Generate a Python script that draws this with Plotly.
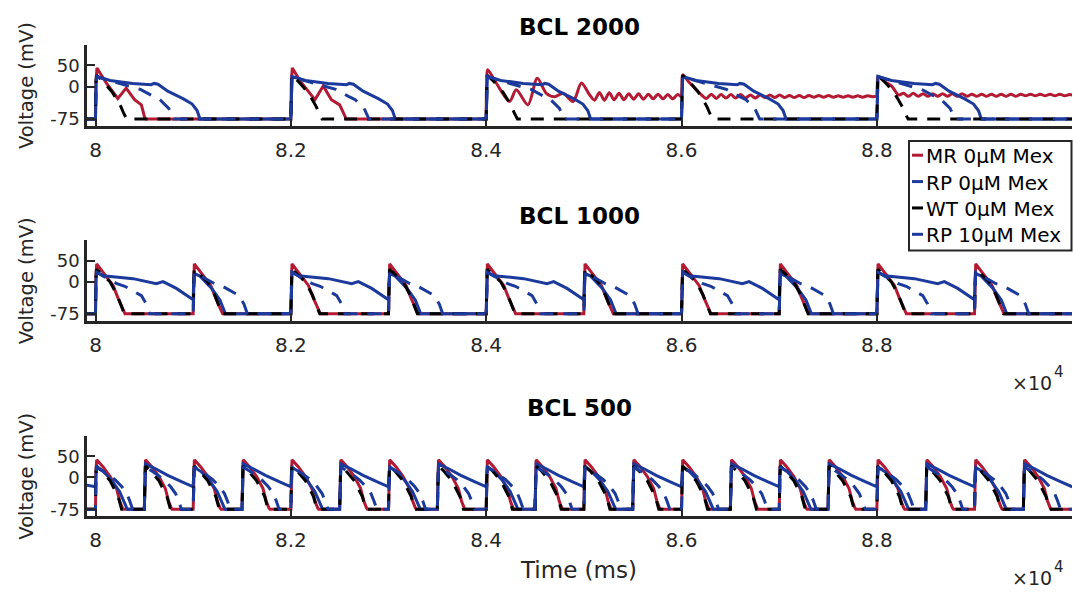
import plotly.graph_objects as go

W, H = 1073, 592
RED = "#B31B34"
BLUE = "#1C3A9C"
WT_COLOR = "#000000"
AX = "#262626"
FONT = "DejaVu Sans"

# ---------------- data (ms, mV) ----------------
START_T = 79900
END_T = 90000
REST = -75

# ---- BCL 2000 ----
ONSETS_2000 = [80000, 82000, 84000, 86000, 88000]

MR2000_B1_T = [0, 5, 15, 110, 228, 314, 400, 470, 505, 520]
MR2000_B1_V = [-75, 10, 44, 9, -27, -3, -30, -42, -73, -75]
MR2000_B2_T = [0, 5, 15, 100, 247, 332, 415, 500, 550, 568]
MR2000_B2_V = [-75, 10, 44, 12, -30, 2, -30, -42, -66, -75]
MR2000_B3_T = [0, 5, 15, 103, 239, 308, 428, 523, 616, 702, 787, 890, 975, 1060,
               1110, 1160, 1210, 1260, 1310, 1360, 1410, 1460, 1510, 1560, 1610,
               1660, 1710, 1760, 1810, 1860, 1910, 1960, 2000]
MR2000_B3_V = [-75, 10, 40, 9, -34, -7, -42, 20, -15, -23, -15, -34, 9, -19,
               -31, -13, -31, -14, -30, -15, -30, -16, -29, -16, -29,
               -17, -28, -17, -28, -18, -28, -18, -24]
MR2000_B4_T = [0, 5, 12, 80, 136, 205,
               255, 305, 355, 405, 455, 505, 555, 605, 655, 705, 755, 805, 855,
               905, 955, 1005, 1055, 1105, 1155, 1205, 1255, 1305, 1355, 1405,
               1455, 1505, 1555, 1605, 1655, 1705, 1755, 1805, 1855, 1905, 1955, 2000]
MR2000_B4_V = [-24, 5, 28, 10, -3, -19,
               -27, -17, -27, -18, -26, -18, -26, -18, -26, -19, -26, -19, -25,
               -19, -25, -19, -25, -20, -25, -20, -25, -20, -24, -20,
               -24, -20, -24, -21, -24, -21, -24, -21, -24, -21, -23, -22]
MR2000_B5_T = [0, 5, 12, 80, 154, 223,
               273, 323, 373, 423, 473, 523, 573, 623, 673, 723, 773, 823, 873,
               923, 973, 1023, 1073, 1123, 1173, 1223, 1273, 1323, 1373, 1423,
               1473, 1523, 1573, 1623, 1673, 1723, 1773, 1823, 1873, 1923, 1973, 2000]
MR2000_B5_V = [-22, 5, 24, 12, 1, -19,
               -15, -22, -15, -22, -16, -22, -16, -22, -16, -22, -16, -22, -16,
               -22, -17, -22, -17, -22, -17, -22, -17, -22, -17, -22,
               -17, -21, -17, -21, -17, -21, -17, -21, -17, -21, -18, -19]

RP0_2000_T = [0, 5, 12, 150, 380, 570, 600, 640, 740, 900, 990, 1040, 1070]
RP0_2000_V = [-75, 5, 24, 15, 8, 5, 8, 6, -10, -28, -40, -55, -75]
WT_2000_T = [0, 4, 10, 80, 170, 220, 260, 290, 320]
WT_2000_V = [-75, 10, 27, 12, -12, -30, -46, -62, -75]
RP10_2000_T = [0, 5, 12, 150, 330, 460, 590, 660, 750, 785, 800]
RP10_2000_V = [-75, 5, 24, 14, 2, -6, -22, -30, -50, -70, -75]

# ---- BCL 1000 ----
ONSETS_1000 = [80000, 81000, 82000, 83000, 84000, 85000, 86000, 87000, 88000, 89000]
MR_1000_T = [0, 4, 12, 78, 180, 231, 266, 290, 302]
MR_1000_V = [-75, 10, 43, 23, -8, -38, -57, -71, -75]
WT_1000_T = [0, 4, 10, 60, 150, 220, 262, 285, 296]
WT_1000_V = [-75, 10, 30, 20, 0, -30, -55, -70, -75]
RP0_1000_LONG_T = [0, 5, 12, 80, 385, 623, 691, 828, 965, 1000]
RP0_1000_LONG_V = [-75, 5, 23, 15, 8, -4, 1, -15, -37, -42]
RP0_1000_SHORT_T = [0, 5, 12, 70, 190, 274, 304, 330]
RP0_1000_SHORT_V = [-42, 0, 20, 14, -15, -42, -61, -75]
RP10_1000_T = [0, 5, 12, 80, 220, 300, 400, 470, 520, 545, 555]
RP10_1000_V = [-75, 5, 23, 14, -4, -10, -22, -32, -52, -70, -75]

# ---- BCL 500 ----
ONSETS_500 = [80000, 80500, 81000, 81500, 82000, 82500, 83000, 83500, 84000, 84500,
              85000, 85500, 86000, 86500, 87000, 87500, 88000, 88500, 89000, 89500]
MR_500_T = [0, 4, 12, 78, 150, 215, 249, 275, 285]
MR_500_V = [-75, 10, 42, 25, 2, -26, -57, -72, -75]
WT_500_T = [0, 4, 10, 60, 150, 232, 255, 267]
WT_500_V = [-75, 10, 27, 17, -8, -45, -66, -75]
RP0_500_SHORT_T = [0, 5, 12, 80, 160, 246, 290, 314, 325]
RP0_500_SHORT_V = [-22, 5, 24, 14, -5, -33, -55, -69, -75]
RP0_500_LONG_T = [0, 5, 12, 120, 240, 380, 500]
RP0_500_LONG_V = [-75, 10, 32, 20, 5, -10, -22]
RP0_500_START_V = -18
RP10_500_T = [0, 5, 12, 100, 200, 270, 320, 350, 370, 380]
RP10_500_V = [-75, 5, 25, 12, -5, -22, -38, -55, -70, -75]

TRACE_NAMES = ["MR 0μM Mex", "RP 0μM Mex", "WT 0μM Mex", "RP 10μM Mex"]
PANEL_TITLES = ["BCL 2000", "BCL 1000", "BCL 500"]
X_TICK_VALS = [80000, 82000, 84000, 86000, 88000]
X_TICK_TEXT = ["8", "8.2", "8.4", "8.6", "8.8"]
Y_TICK_VALS = [-75, 0, 50]
Y_TICK_TEXT = ["-75", "0", "50"]


def build(onsets, beats, start=None, end=None):
    t, v = [], []
    if start is not None:
        t.append(start[0])
        v.append(start[1])
    for on, (T, V) in zip(onsets, beats):
        if len(T) != len(V):
            raise ValueError("length mismatch at onset %s" % on)
        t += [on + d for d in T]
        v += list(V)
    if end is not None:
        t.append(end[0])
        v.append(end[1])
    return t, v


S0 = (START_T, REST)
E0 = (END_T, REST)

# panel 1: MR split in a resting part (linear) and an oscillating part (smoothed)
mr2000_a = build(ONSETS_2000[:2], [(MR2000_B1_T, MR2000_B1_V), (MR2000_B2_T, MR2000_B2_V)],
                 S0, (ONSETS_2000[2], REST))
mr2000_b = build(ONSETS_2000[2:], [(MR2000_B3_T, MR2000_B3_V), (MR2000_B4_T, MR2000_B4_V),
                                   (MR2000_B5_T, MR2000_B5_V)])
p1 = [
    [mr2000_a, mr2000_b],
    [build(ONSETS_2000, [(RP0_2000_T, RP0_2000_V)] * 5, S0, E0)],
    [build(ONSETS_2000, [(WT_2000_T, WT_2000_V)] * 5, S0, E0)],
    [build(ONSETS_2000, [(RP10_2000_T, RP10_2000_V)] * 5, S0, E0)],
]
rp0_1000 = [(RP0_1000_LONG_T, RP0_1000_LONG_V) if i % 2 == 0 else (RP0_1000_SHORT_T, RP0_1000_SHORT_V)
            for i in range(len(ONSETS_1000))]
p2 = [
    [build(ONSETS_1000, [(MR_1000_T, MR_1000_V)] * 10, S0, E0)],
    [build(ONSETS_1000, rp0_1000, S0, E0)],
    [build(ONSETS_1000, [(WT_1000_T, WT_1000_V)] * 10, S0, E0)],
    [build(ONSETS_1000, [(RP10_1000_T, RP10_1000_V)] * 10, S0, E0)],
]
rp0_500 = [(RP0_500_SHORT_T, RP0_500_SHORT_V) if i % 2 == 0 else (RP0_500_LONG_T, RP0_500_LONG_V)
           for i in range(len(ONSETS_500))]
p3 = [
    [build(ONSETS_500, [(MR_500_T, MR_500_V)] * 20, S0, E0)],
    [build(ONSETS_500, rp0_500, (START_T, RP0_500_START_V))],
    [build(ONSETS_500, [(WT_500_T, WT_500_V)] * 20, S0, E0)],
    [build(ONSETS_500, [(RP10_500_T, RP10_500_V)] * 20, S0, E0)],
]
panels = [p1, p2, p3]

# ---------------- figure ----------------
ML, MR_, MT, MB = 87, 1, 0, 0
PW = W - ML - MR_


def fx(px):
    return (px - ML) / PW


def fy(py):
    return 1 - py / H


AXIS_PX = [(45, 127), (241.7, 322.7), (438.3, 519)]
X_RANGE = [79913, 89998]
Y_RANGE = [-92, 98]

styles = [
    dict(color=RED, width=3),
    dict(color=BLUE, width=3),
    dict(color=WT_COLOR, width=3, dash="13px,10px"),
    dict(color=BLUE, width=3, dash="14px,10px"),
]

fig = go.Figure()
for pi, traces in enumerate(panels):
    sfx = "" if pi == 0 else str(pi + 1)
    for ti, parts in enumerate(traces):
        for k, (t, v) in enumerate(parts):
            st = dict(styles[ti])
            if k == 1:
                st.update(shape="spline", smoothing=0.8)
            fig.add_trace(go.Scatter(x=t, y=v, mode="lines", name=TRACE_NAMES[ti],
                                     legendgroup=TRACE_NAMES[ti],
                                     line=st, showlegend=False,
                                     xaxis="x" + sfx, yaxis="y" + sfx, hoverinfo="skip"))

layout = dict(width=W, height=H, margin=dict(l=ML, r=MR_, t=MT, b=MB),
              paper_bgcolor="white", plot_bgcolor="white",
              font=dict(family=FONT, color=AX), showlegend=False)
for pi, (top, bot) in enumerate(AXIS_PX):
    sfx = "" if pi == 0 else str(pi + 1)
    layout["xaxis" + sfx] = dict(
        domain=[0, 1], anchor="y" + sfx, range=X_RANGE,
        tickvals=X_TICK_VALS, ticktext=X_TICK_TEXT,
        showline=True, linecolor=AX, linewidth=2.5, mirror=False,
        ticks="inside", ticklen=8, tickwidth=2, tickcolor=AX,
        showgrid=False, zeroline=False, tickfont=dict(size=20, color=AX, family=FONT),
        ticklabelstandoff=4)
    layout["yaxis" + sfx] = dict(
        domain=[fy(bot), fy(top)], anchor="x" + sfx, range=Y_RANGE,
        tickvals=Y_TICK_VALS, ticktext=Y_TICK_TEXT,
        showline=True, linecolor=AX, linewidth=2.5, mirror=False,
        ticks="inside", ticklen=8, tickwidth=2, tickcolor=AX,
        showgrid=False, zeroline=False, tickfont=dict(size=18, color=AX, family=FONT),
        ticklabelstandoff=1,
        title=dict(text="Voltage (mV)", font=dict(size=19.5, color=AX, family=FONT), standoff=12))
fig.update_layout(**layout)

annotations = []
TITLE_PY = [27, 217, 410]
for pi, (top, bot) in enumerate(AXIS_PX):
    annotations.append(dict(text="<b>%s</b>" % PANEL_TITLES[pi], x=fx(579.5), y=fy(TITLE_PY[pi]),
                            xref="paper", yref="paper", showarrow=False,
                            xanchor="center", yanchor="middle",
                            font=dict(size=23, color="black", family=FONT)))
annotations.append(dict(text="Time (ms)", x=fx(578), y=fy(573), xref="paper", yref="paper",
                        showarrow=False, xanchor="center", yanchor="middle",
                        font=dict(size=23, color=AX, family=FONT)))
for base in (322.7, 519):
    annotations.append(dict(text="×10", x=fx(1031.5), y=fy(base + 62), xref="paper", yref="paper",
                            showarrow=False, xanchor="center", yanchor="middle",
                            font=dict(size=19, color=AX, family=FONT)))
    annotations.append(dict(text="4", x=fx(1058.5), y=fy(base + 51), xref="paper", yref="paper",
                            showarrow=False, xanchor="center", yanchor="middle",
                            font=dict(size=15, color=AX, family=FONT)))

# manual legend
shapes = [dict(type="rect", xref="paper", yref="paper", x0=fx(909), x1=fx(1071.5),
               y0=fy(251.7), y1=fy(141.7), line=dict(color=AX, width=2),
               fillcolor="white", layer="above")]
LEG_COLORS = [RED, BLUE, WT_COLOR, BLUE]
LEG_PY = [156, 182.5, 209, 235.5]
for i, name in enumerate(TRACE_NAMES):
    shapes.append(dict(type="line", xref="paper", yref="paper", x0=fx(912), x1=fx(923),
                       y0=fy(LEG_PY[i]), y1=fy(LEG_PY[i]),
                       line=dict(color=LEG_COLORS[i], width=3), layer="above"))
    annotations.append(dict(text=name, x=fx(924), y=fy(LEG_PY[i] + 1), xref="paper", yref="paper",
                            showarrow=False, xanchor="left", yanchor="middle",
                            font=dict(size=20, color="black", family=FONT)))

fig.update_layout(annotations=annotations, shapes=shapes)
fig.write_html("out.html", config={"displayModeBar": False},
               post_script="document.body.style.margin='0px';document.body.style.overflow='hidden';")
